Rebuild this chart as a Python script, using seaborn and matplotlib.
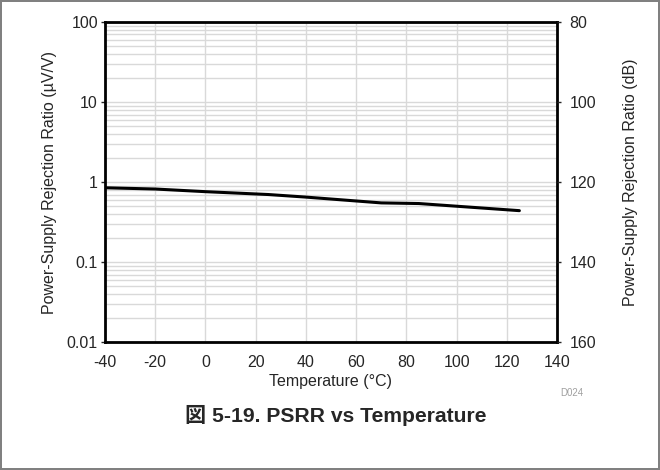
import numpy as np
import pandas as pd
import matplotlib
matplotlib.use("Agg")
import matplotlib.pyplot as plt
import matplotlib.ticker as mticker
import seaborn as sns

# PSRR vs temperature
TEMP_C = [-40, -20, 0, 25, 40, 70, 85, 100, 125]
PSRR_UV_V = [0.85, 0.82, 0.76, 0.70, 0.65, 0.55, 0.54, 0.50, 0.44]

X_TICKS = [-40, -20, 0, 20, 40, 60, 80, 100, 120, 140]
Y_TICKS = [0.01, 0.1, 1, 10, 100]
Y_TICK_LABELS = ["0.01", "0.1", "1", "10", "100"]
DB_TICKS = [80, 100, 120, 140, 160]

sns.set_style("white")
plt.rcParams["font.family"] = ["Liberation Sans", "Noto Sans CJK JP", "DejaVu Sans"]

GRID = "#d9d9d9"
FS = 11.5

df = pd.DataFrame({"temp": TEMP_C, "psrr": PSRR_UV_V})

fig = plt.figure(figsize=(6.6, 4.7), dpi=100)
fig.patch.set_edgecolor("#808080")
fig.patch.set_linewidth(1.5)
ax = fig.add_axes([0.159, 0.272, 0.685, 0.681])

sns.lineplot(data=df, x="temp", y="psrr", color="black", linewidth=2.2, ax=ax)

ax.set_yscale("log")
ax.set_ylim(0.01, 100)
ax.set_xlim(-40, 140)
ax.set_xticks(X_TICKS)
ax.set_xticklabels([str(t) for t in X_TICKS])
ax.set_yticks(Y_TICKS)
ax.set_yticklabels(Y_TICK_LABELS)
ax.yaxis.set_minor_locator(mticker.LogLocator(base=10, subs=np.arange(2, 10)))
ax.yaxis.set_minor_formatter(mticker.NullFormatter())

ax.grid(True, which="major", axis="both", color=GRID, linewidth=1)
ax.grid(True, which="minor", axis="y", color=GRID, linewidth=1)
ax.set_axisbelow(True)

ax.tick_params(axis="y", which="major", direction="out", length=3, width=1,
               labelsize=FS, pad=2)
ax.tick_params(axis="y", which="minor", length=0)
ax.tick_params(axis="x", which="major", direction="out", length=0,
               labelsize=FS, pad=9)
for s in ax.spines.values():
    s.set_color("black")
    s.set_linewidth(2)

ax.set_xlabel("Temperature (°C)", fontsize=FS, labelpad=3)
ax.set_ylabel("Power-Supply Rejection Ratio (µV/V)", fontsize=FS, labelpad=7)

# right axis: same quantity expressed in dB
ax2 = ax.twinx()
ax2.set_ylim(160, 80)
ax2.set_yticks(DB_TICKS)
ax2.tick_params(axis="y", direction="out", length=3, width=1, labelsize=FS, pad=6)
for s in ax2.spines.values():
    s.set_visible(False)
ax2.set_ylabel("Power-Supply Rejection Ratio (dB)", fontsize=FS, labelpad=19)

fig.text(0.867, 0.164, "D024", fontsize=7, color="#a0a0a0", ha="center", va="center")
fig.text(0.508, 0.115, "図 5-19. PSRR vs Temperature", fontsize=15.2,
         fontweight="bold", ha="center", va="center")

fig.savefig("out.png", dpi=100)
